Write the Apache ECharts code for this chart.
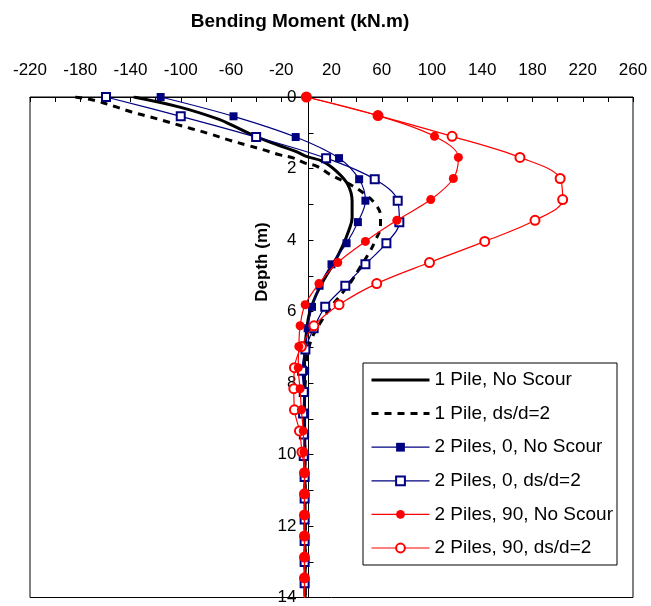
<!DOCTYPE html>
<html>
<head>
<meta charset="utf-8">
<script src="https://cdn.jsdelivr.net/npm/echarts@6/dist/echarts.min.js"></script>
<style>
  html, body { margin: 0; padding: 0; background: #fff; }
  #chart { width: 651px; height: 606px; }
</style>
</head>
<body>
<div id="chart"></div>
<script>
// Bending moment (kN.m) along pile depth (m)

const seriesNames = [
  '1 Pile, No Scour',
  '1 Pile, ds/d=2',
  '2 Piles, 0, No Scour',
  '2 Piles, 0, ds/d=2',
  '2 Piles, 90, No Scour',
  '2 Piles, 90, ds/d=2'
];

// Single pile, no scour: [moment, depth]
const onePileNoScour = [
  [-137.5, 0], [-100, 0.29], [-70, 0.62], [-58, 0.81], [-40, 1.11], [-22, 1.35],
  [-8, 1.53], [0, 1.66], [13, 1.8], [24, 2.08], [33, 2.45], [36.4, 2.91],
  [36.4, 3.37], [33.7, 3.74], [28.4, 4.2], [21.7, 4.66], [13.8, 5.12], [7.2, 5.58],
  [2.5, 6.04], [0.3, 6.5], [-1, 7], [-1.5, 7.5], [-1.5, 8.5], [-1.2, 10], [-1, 12], [-1, 14]
];

// Single pile, ds/d = 2: [moment, depth]
const onePileScour = [
  [-184, 0], [-168, 0.1], [-153, 0.26], [-139, 0.42], [-124, 0.56], [-110, 0.7],
  [-92, 0.88], [-78, 1.02], [-62, 1.2], [-47, 1.35], [-34, 1.48], [-21, 1.62],
  [-10, 1.71], [-1, 1.85], [8.5, 1.94], [19, 2.17], [35, 2.45], [47, 2.73],
  [55, 3.0], [59, 3.32], [59, 3.6], [55, 4.01], [49.6, 4.38], [43, 4.75],
  [36.4, 5.12], [28.4, 5.49], [19, 5.9], [11, 6.32], [5, 6.7], [1.5, 7.1],
  [0, 7.6], [-1.2, 8.2], [-1.5, 9], [-1.2, 10], [-1, 12], [-1, 14]
];

// Node depths for the two-pile runs
const depthPile0 = [0, 0.54, 1.12, 1.71, 2.3, 2.9, 3.5, 4.09, 4.68, 5.28, 5.87, 6.47,
  7.06, 7.66, 8.25, 8.85, 9.44, 10.04, 10.63, 11.23, 11.82, 12.42, 13.01, 13.6];
const depthPile90 = [0, 0.52, 1.1, 1.69, 2.28, 2.87, 3.45, 4.04, 4.63, 5.22, 5.81, 6.4,
  6.98, 7.57, 8.16, 8.75, 9.34, 9.93, 10.51, 11.1, 11.69, 12.28, 12.87, 13.45, 14.04];

const twoPile0NoScour = [-116, -58, -8.5, 26, 42, 47, 41, 32, 20, 10.5, 4.5, 1,
  -0.5, -1, -1, -1, -1, -1, -1, -1, -1, -1, -1, -1];
const twoPile0Scour = [-159.5, -100, -40, 15.7, 54.4, 72.7, 74, 63.7, 47, 31, 15, 5.8,
  -0.8, -3.4, -2.1, -2.6, -2, -2.1, -1.4, -1.4, -1.4, -1.4, -1.4, -1.4];
const twoPile90NoScour = [0, 57, 102, 121, 117, 99, 72, 47, 25, 10, -1, -5,
  -6, -6.5, -5, -4, -2.5, -2, -1.5, -1.5, -1.5, -1.5, -1.5, -1.5, -1.5];
const twoPile90Scour = [0, 57, 116, 170, 202, 204, 182, 142, 98, 56, 26, 6,
  -4, -9.5, -10, -9.5, -5.5, -3.5, -1.5, -1.5, -1.5, -1.5, -1.5, -1.5, -1.5];

const FONT = "'Liberation Sans', Arial, Helvetica, sans-serif";
const NAVY = '#000080';
const RED = '#FF0000';
const GRID = { left: 30, right: 18, top: 97, bottom: 4 };
const LEGEND_BOX = { x: 363, y: 363, width: 254, height: 202 };

function pairs(depths, values) {
  return depths.map((d, i) => [values[i], d]);
}

const chart = echarts.init(document.getElementById('chart'), null, { renderer: 'canvas' });

chart.setOption({
  animation: false,
  backgroundColor: '#fff',
  grid: Object.assign({
    show: true, borderColor: '#000', borderWidth: 1, backgroundColor: 'transparent'
  }, GRID),
  graphic: [
    {
      type: 'text', x: 300, y: 22, z: 100,
      style: {
        text: 'Bending Moment (kN.m)', font: 'bold 19px ' + FONT, fill: '#000',
        textAlign: 'center', textVerticalAlign: 'middle'
      }
    },
    {
      type: 'text', x: 262, y: 262, rotation: Math.PI / 2, z: 100,
      style: {
        text: 'Depth (m)', font: 'bold 17px ' + FONT, fill: '#000',
        textAlign: 'center', textVerticalAlign: 'middle'
      }
    },
    {
      // legend frame
      type: 'rect', z: 150,
      shape: LEGEND_BOX,
      style: { fill: '#fff', stroke: '#000', lineWidth: 1 }
    }
  ],
  xAxis: {
    type: 'value', position: 'top',
    min: -220, max: 260, interval: 20,
    axisLine: { onZero: false, lineStyle: { color: '#000', width: 1 } },
    axisTick: { inside: true, length: 5, lineStyle: { color: '#000' } },
    splitLine: { show: false },
    axisLabel: {
      color: '#000', fontSize: 17, fontFamily: FONT, margin: 18,
      formatter: v => ((v + 220) % 40 === 0 ? String(v) : '')
    }
  },
  yAxis: {
    type: 'value', inverse: true,
    min: 0, max: 14, interval: 1,
    axisLine: { onZero: false, lineStyle: { color: '#000', width: 1 } },
    axisTick: { inside: true, length: 5, lineStyle: { color: '#000' } },
    splitLine: { show: false },
    axisLabel: {
      color: '#000', fontSize: 17, fontFamily: FONT, margin: 12,
      formatter: v => (v % 2 === 0 ? String(v) : '')
    }
  },
  legend: {
    orient: 'vertical', left: LEGEND_BOX.x, top: LEGEND_BOX.y, z: 200,
    itemWidth: 58, itemHeight: 11, itemGap: 13.6,
    padding: [7, 0, 7, 7],
    backgroundColor: 'transparent', borderWidth: 0,
    textStyle: { fontSize: 19, fontFamily: FONT, color: '#000', lineHeight: 20 },
    data: seriesNames.map((name, i) =>
      i < 2
        ? { name: name, itemStyle: { opacity: 0 }, lineStyle: { width: 3 } }
        : { name: name, lineStyle: { width: 1.2 } })
  },
  series: [
    {
      name: seriesNames[0], type: 'line', data: onePileNoScour,
      smooth: 0.4, symbol: 'none', z: 2,
      lineStyle: { color: '#000', width: 3 }, itemStyle: { color: '#000' }
    },
    {
      name: seriesNames[1], type: 'line', data: onePileScour,
      smooth: 0.4, symbol: 'none', z: 2,
      lineStyle: { color: '#000', width: 3, type: [7, 6] }, itemStyle: { color: '#000' }
    },
    {
      name: seriesNames[2], type: 'line', data: pairs(depthPile0, twoPile0NoScour),
      smooth: 0.35, symbol: 'rect', symbolSize: 8, z: 3,
      lineStyle: { color: NAVY, width: 1.2 }, itemStyle: { color: NAVY }
    },
    {
      name: seriesNames[3], type: 'line', data: pairs(depthPile0, twoPile0Scour),
      smooth: 0.35, symbol: 'emptyRect', symbolSize: 8, z: 4,
      lineStyle: { color: NAVY, width: 1.2 }, itemStyle: { color: NAVY, borderWidth: 1.2 }
    },
    {
      name: seriesNames[5], type: 'line', data: pairs(depthPile90, twoPile90Scour),
      smooth: 0.35, symbol: 'emptyCircle', symbolSize: 9, z: 5,
      lineStyle: { color: RED, width: 1.2 }, itemStyle: { color: RED, borderWidth: 1.2 }
    },
    {
      name: seriesNames[4], type: 'line', data: pairs(depthPile90, twoPile90NoScour),
      smooth: 0.35, symbol: 'circle', symbolSize: 9, z: 6,
      lineStyle: { color: RED, width: 1.2 }, itemStyle: { color: RED }
    }
  ]
});

// Place the depth axis on the zero-moment line, using the x scale.
const zeroX = chart.convertToPixel({ xAxisIndex: 0 }, 0);
chart.setOption({ yAxis: { offset: -(zeroX - GRID.left) } });
</script>
</body>
</html>
